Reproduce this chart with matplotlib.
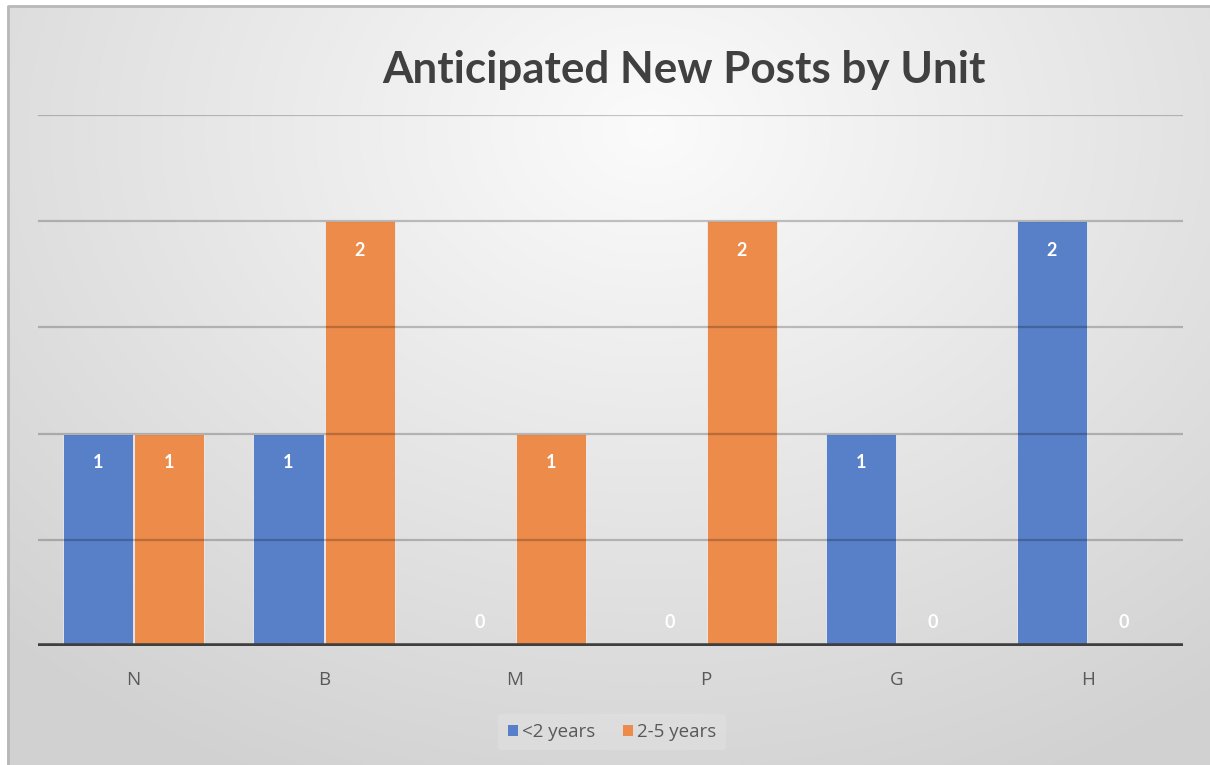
import numpy as np
import matplotlib
matplotlib.use('Agg')
from matplotlib import pyplot as plt
from matplotlib.patches import Patch

units = ['N', 'B', 'M', 'P', 'G', 'H']
under_2 = [1, 1, 0, 0, 1, 2]
two_to_5 = [1, 2, 1, 2, 0, 0]
series_names = ['<2 years', '2-5 years']
colors = ['#5880c8', '#ec8b4a']
title = 'Anticipated New Posts by Unit'

W, H = 1210, 765
fig = plt.figure(figsize=(W / 100, H / 100), dpi=100)
fig.patch.set_facecolor('white')

# background gradient (light centre near the title, greyer toward the edges)
bg = fig.add_axes([0, 0, 1, 1], zorder=-5)
yy, xx = np.mgrid[0:H, 0:W]
r = np.sqrt(((xx - 650) / 900.0) ** 2 + ((yy - 130) / 700.0) ** 2)
shade = np.clip(0.985 - 0.16 * r, 0.82, 1)
img = np.dstack([shade, shade, shade])
img[:6, :, :] = 1
img[:, :7, :] = 1
bg.imshow(img, extent=[0, W, H, 0], aspect='auto', interpolation='bilinear')
bg.plot([7.5, 7.5, W], [H, 6, 6], color='#b8b8b8', lw=2)
bg.set_xlim(0, W)
bg.set_ylim(H, 0)
bg.axis('off')

ax = fig.add_axes([38 / W, 119 / H, (1183 - 38) / W, 531 / H])
ax.patch.set_alpha(0)
x = np.arange(len(units))
bw = 0.368
off = 0.1875
b1 = ax.bar(x - off, under_2, bw, color=colors[0], edgecolor='#eeeeee', linewidth=0.6, zorder=2)
b2 = ax.bar(x + off, two_to_5, bw, color=colors[1], edgecolor='#eeeeee', linewidth=0.6, zorder=2)

# data labels: inside end of the bar, just above the axis for zeros
for bars, vals in ((b1, under_2), (b2, two_to_5)):
    for rect, v in zip(bars, vals):
        dy = -21 if v > 0 else 17
        ax.annotate(str(v), (rect.get_x() + rect.get_width() / 2, v),
                    xytext=(0, dy), textcoords='offset points',
                    ha='center', va='center', color='white',
                    fontsize=13, fontweight='bold', family='Lato', zorder=5)

for gy in [0.5, 1.0, 1.5, 2.0, 2.5]:
    ax.axhline(gy, color='black', alpha=0.22, lw=1.6, zorder=3)
ax.axhline(0, color='#3f3f3f', lw=4, zorder=4)

ax.set_xlim(-0.5, 5.5)
ax.set_ylim(0, 2.5)
ax.set_xticks(x)
ax.set_xticklabels(units, fontsize=13.5, color='#595959', family='Open Sans')
ax.tick_params(axis='x', length=0, pad=18)
ax.set_yticks([])
for s in ax.spines.values():
    s.set_visible(False)

fig.text(684 / W, 1 - 70 / H, title, ha='center', va='center',
         fontsize=31.7, fontweight='bold', color='#404040', family='Lato')

handles = [Patch(facecolor=c, edgecolor='none') for c in colors]
leg = fig.legend(handles, series_names, loc='center', bbox_to_anchor=(612 / W, 1 - 732 / H),
                 ncol=2, frameon=True, fontsize=13.5, handlelength=0.55, handleheight=0.55,
                 handletextpad=0.2, columnspacing=1.5, borderpad=0.5)
leg.get_frame().set_facecolor('white')
leg.get_frame().set_alpha(0.15)
leg.get_frame().set_edgecolor('none')
for t in leg.get_texts():
    t.set_color('#595959')
    t.set_family('Open Sans')

fig.savefig('out.png', dpi=100)
